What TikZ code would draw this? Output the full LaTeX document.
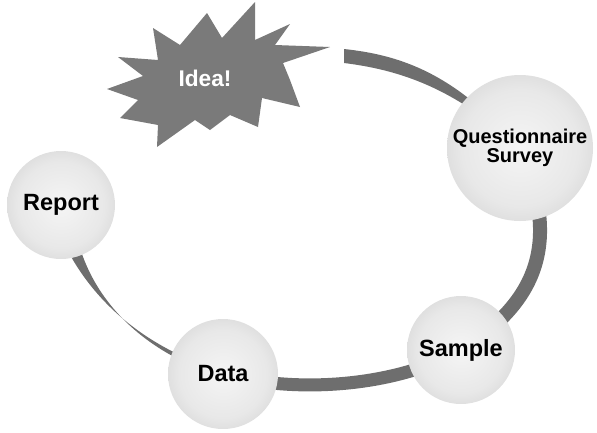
\documentclass[tikz,border=0pt]{standalone}
\usepackage{fontspec}
\setmainfont{Liberation Sans}
\usetikzlibrary{backgrounds,calc}
\definecolor{bandgray}{HTML}{6E6E6E}
\definecolor{stargray}{HTML}{7A7A7A}
\pgfdeclareradialshading{sphere}{\pgfpoint{0bp}{0bp}}{color(0bp)=(black!4); color(20bp)=(black!9); color(38bp)=(black!21); color(50bp)=(black!34)}

\begin{document}
\begin{tikzpicture}[x=1pt,y=-1pt,
    ball/.style={circle, shading=sphere, draw=none, inner sep=0pt, align=center,
      font=\bfseries\fontsize{23.5}{26}\selectfont},
    band/.style={fill=bandgray, draw=none},
    bandline/.style={draw=bandgray, line cap=butt}]
  \useasboundingbox (0,0) rectangle (597,432);
  % the burst
  \fill[stargray] (107,89) -- (143,76) -- (118,57) -- (158,60) -- (153,28) -- (180,45)
    -- (207,13) -- (222,38) -- (255,2) -- (255,40) -- (290,24) -- (275,45) -- (330,47)
    -- (283,63) -- (290,80) -- (300,107) -- (262,98) -- (258,127) -- (230,115)
    -- (210,130) -- (195,120) -- (157,147) -- (158,125) -- (120,118) -- (138,100) -- cycle;
  \node[text=white, font=\bfseries\fontsize{22.7}{25}\selectfont] (idea) at (205,78) {Idea!};
  \node[ball, minimum size=146pt, font=\bfseries\fontsize{20}{18.5}\selectfont] (qs) at (520,148) {Questionnaire\\Survey};
  \node[ball, minimum size=108pt] (report) at (61,205) {Report};
  \node[ball, minimum size=110pt] (data) at (223,374) {Data};
  \node[ball, minimum size=108pt] (sample) at (461,350) {Sample};
  \coordinate (gap) at (344,56);
  \begin{scope}[on background layer]
    \fill[band] ($(gap)+(0,-7)$) .. controls (400,55) and (455,73) .. (qs.center)
      .. controls (455,88) and (400,70) .. ($(gap)+(0,7)$) -- cycle;
    \draw[bandline, line width=14pt] (qs.center) .. controls (560,240) and (540,300) .. (sample.center);
    \draw[bandline, line width=13pt] (sample.center) .. controls (400,385) and (300,395) .. (data.center);
    \fill[band] ($(report.center)+(-11.5,0)$) .. controls (73.5,290) and (140,347) .. ($(data.center)+(0,-2.5)$)
      -- ($(data.center)+(0,2.5)$) .. controls (140,353) and (76.5,290) .. ($(report.center)+(11.5,0)$) -- cycle;
  \end{scope}
\end{tikzpicture}
\end{document}
